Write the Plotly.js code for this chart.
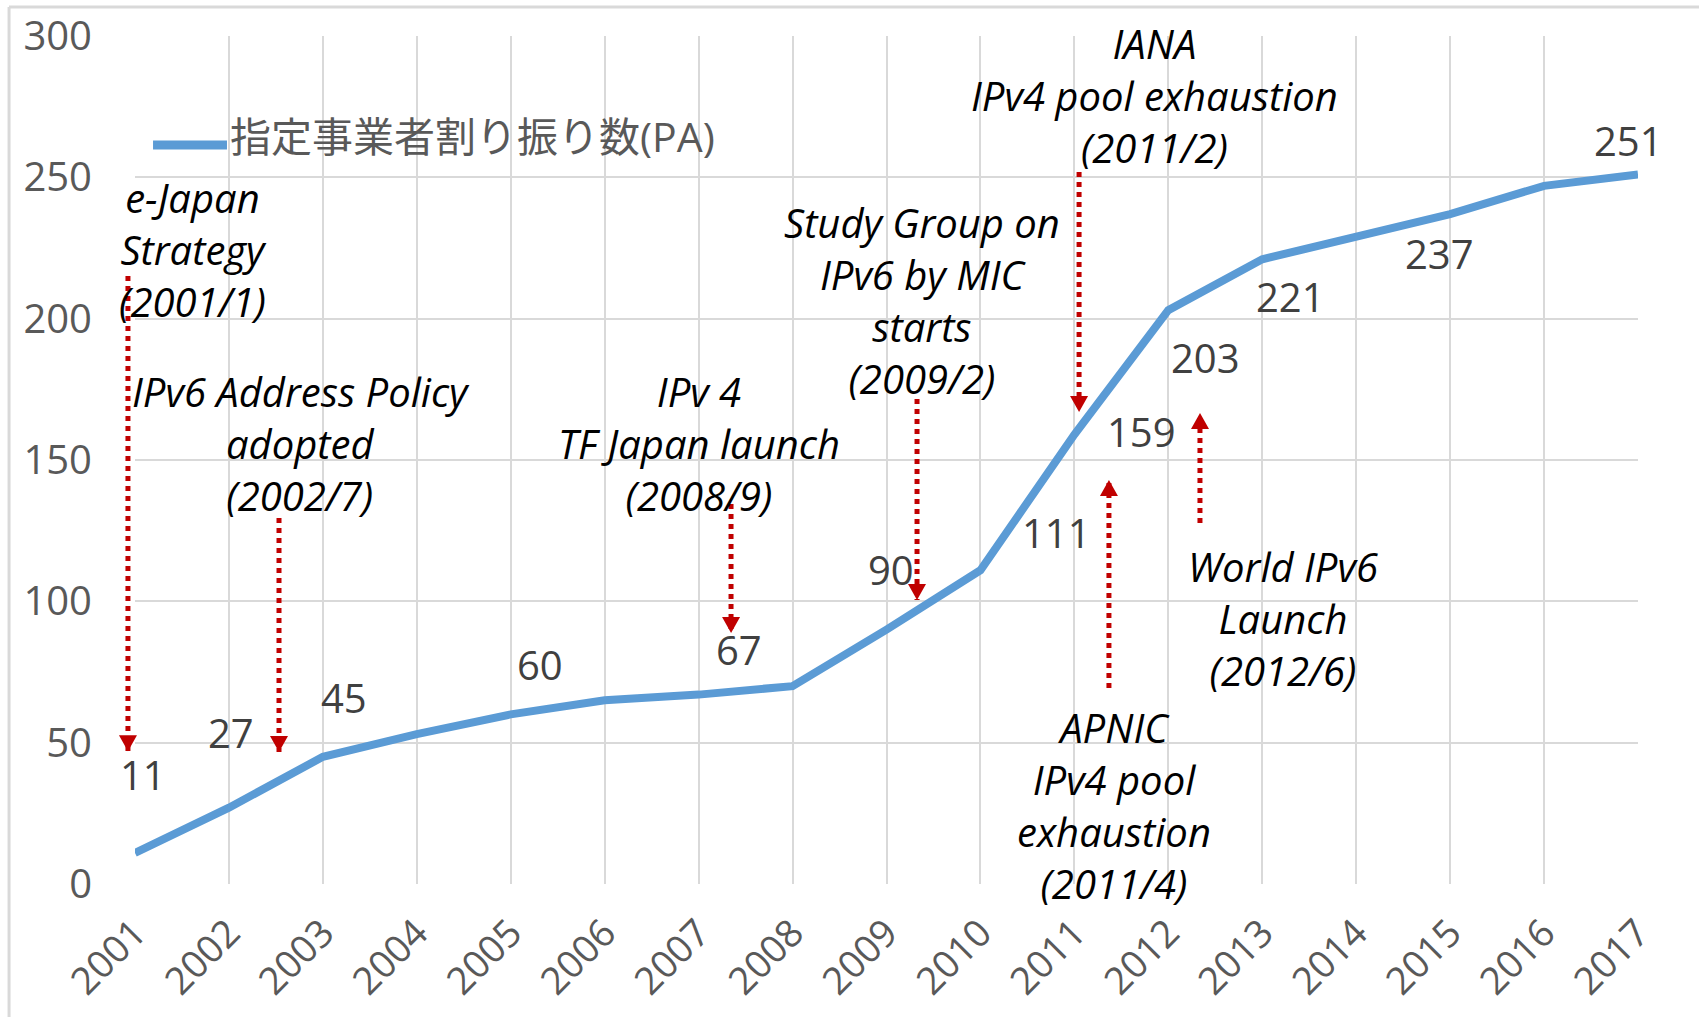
<!DOCTYPE html>
<html>
<head>
<meta charset="utf-8">
<script src="https://cdn.plot.ly/plotly-3.0.1.min.js"></script>
<style>
html,body{margin:0;padding:0;background:#fff;}
#chart{width:1699px;height:1017px;}
</style>
</head>
<body>
<div id="chart"></div>
<script>
// ---- data ----
const years = [2001,2002,2003,2004,2005,2006,2007,2008,2009,2010,2011,2012,2013,2014,2015,2016,2017];
const paCounts = [11,27,45,53,60,65,67,70,90,111,159,203,221,229,237,247,251];
const seriesName = "指定事業者割り振り数(PA)";
const labeledYears = [2001,2002,2003,2005,2007,2009,2010,2011,2012,2013,2015,2017];
const yTickValues = [0,50,100,150,200,250,300];

const eventTexts = [
  "e-Japan<br>Strategy<br>(2001/1)",
  "IPv6 Address Policy<br>adopted<br>(2002/7)",
  "IPv 4<br>TF Japan launch<br>(2008/9)",
  "Study Group on<br>IPv6 by MIC<br>starts<br>(2009/2)",
  "IANA<br>IPv4 pool exhaustion<br>(2011/2)",
  "World IPv6<br>Launch<br>(2012/6)",
  "APNIC<br>IPv4 pool<br>exhaustion<br>(2011/4)"
];

// ---- layout helpers (positions / styles) ----
const xRange = [2001, 2017];
const yRange = [0, 300];
const labelOffsets = {
  2001:[8,78], 2002:[2,75], 2003:[21,59], 2005:[29,50], 2007:[40,45],
  2009:[4,60], 2010:[76,38], 2011:[67,3], 2012:[37,-47], 2013:[28,-37],
  2015:[-11,-39], 2017:[-10,34]
};
// event text block centers in axis units
const eventPos = [
  [2001.62,224.6],[2002.77,156.0],[2007.00,156.0],[2009.38,206.6],
  [2011.85,279.1],[2013.22,94.1],[2011.42,27.9]
];
// arrows: [x, tail y, tip y] in axis units
const arrowPos = [
  [2000.925,215.1,47.0],[2002.533,129.5,46.7],[2007.345,134.4,88.8],
  [2009.325,171.6,100.5],[2011.05,251.9,167.0],[2011.368,69.3,142.9],
  [2012.337,127.7,166.6]
];
const px = x => (x - xRange[0]) / (xRange[1] - xRange[0]);
const py = y => (y - yRange[0]) / (yRange[1] - yRange[0]);

const blue = "#5B9BD5";
const red = "#C00000";
const gridGray = "#D9D9D9";
const tickGray = "#595959";
const labelGray = "#404040";
const numFont = "Open Sans, Noto Sans CJK JP, sans-serif";

const trace = {
  x: years, y: paCounts, type: "scatter", mode: "lines", name: seriesName,
  line: {color: blue, width: 8}, showlegend: false, hoverinfo: "skip"
};

const annotations = [];
labeledYears.forEach(yr => {
  const i = years.indexOf(yr);
  const off = labelOffsets[yr];
  annotations.push({
    x: years[i], y: paCounts[i], xref: "x", yref: "y",
    text: String(paCounts[i]), showarrow: false,
    xshift: off[0], yshift: off[1], xanchor: "center", yanchor: "middle",
    font: {family: numFont, size: 40, color: labelGray}
  });
});
eventTexts.forEach((t, k) => {
  annotations.push({
    x: px(eventPos[k][0]), y: py(eventPos[k][1]), xref: "paper", yref: "paper",
    text: t, showarrow: false, align: "center",
    xanchor: "center", yanchor: "middle",
    font: {family: "Open Sans, sans-serif", size: 40, color: "#000", style: "italic"}
  });
});
// legend text
annotations.push({
  x: 0.062, y: 0.882, xref: "paper", yref: "paper", text: seriesName,
  showarrow: false, xanchor: "left", yanchor: "middle",
  font: {family: numFont, size: 41, color: tickGray}
});

const shapes = [];
arrowPos.forEach(a => {
  const down = a[2] < a[1];
  shapes.push({
    type: "line", xref: "paper", yref: "paper",
    x0: px(a[0]), x1: px(a[0]), y0: py(a[1]), y1: py(a[2]),
    line: {color: red, width: 5, dash: "5px,5px"}, layer: "above"
  });
  shapes.push({
    type: "path", xref: "paper", yref: "paper",
    xsizemode: "pixel", ysizemode: "pixel", xanchor: px(a[0]), yanchor: py(a[2]),
    path: down ? "M-9,16 L9,16 L0,0 Z" : "M-9,-16 L9,-16 L0,0 Z",
    fillcolor: red, line: {width: 0}, layer: "above"
  });
});
// legend line
shapes.push({type: "line", xref: "paper", yref: "paper", x0: 0.0120, x1: 0.0612, y0: 0.8715, y1: 0.8715,
  line: {color: blue, width: 9}});
// outer frame (top & left)
shapes.push({type: "line", xref: "paper", yref: "paper", x0: -0.0838, x1: 1.05, y0: 1.0342, y1: 1.0342,
  line: {color: gridGray, width: 3}});
shapes.push({type: "line", xref: "paper", yref: "paper", x0: -0.0838, x1: -0.0838, y0: 1.0342, y1: -0.2,
  line: {color: gridGray, width: 3}});

const layout = {
  width: 1699, height: 1017,
  margin: {l: 135, r: 61, t: 36, b: 133},
  paper_bgcolor: "#fff", plot_bgcolor: "#fff",
  showlegend: false, hovermode: false,
  xaxis: {
    range: xRange, tickvals: years, ticktext: years.map(String),
    tickangle: -45, showgrid: true, gridcolor: gridGray, gridwidth: 2,
    zeroline: false, showline: false, ticks: "",
    tickfont: {family: numFont, size: 38, color: tickGray},
    ticklabelstandoff: 18, fixedrange: true
  },
  yaxis: {
    range: yRange, tickvals: yTickValues, showgrid: true, gridcolor: gridGray, gridwidth: 2,
    zeroline: false, showline: false, ticks: "",
    tickfont: {family: numFont, size: 40, color: tickGray},
    ticklabelstandoff: 42, fixedrange: true
  },
  annotations: annotations,
  shapes: shapes
};

Plotly.newPlot("chart", [trace], layout, {displayModeBar: false, staticPlot: true});
</script>
</body>
</html>
